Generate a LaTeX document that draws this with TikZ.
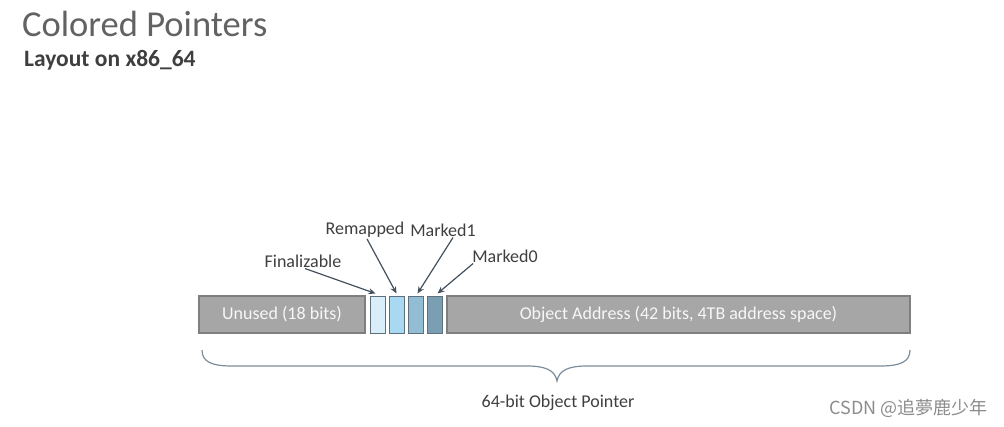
\documentclass[tikz,border=0pt]{standalone}
\usepackage{fontspec}
\setmainfont{Carlito}
\newfontfamily\cjkfont{Noto Sans CJK SC}
\usetikzlibrary{arrows.meta,calc}
\definecolor{titlegray}{HTML}{626262}
\definecolor{subgray}{HTML}{3F3F3F}
\definecolor{boxfill}{HTML}{A6A6A6}
\definecolor{boxdraw}{HTML}{7F7F7F}
\definecolor{bitdraw}{HTML}{5E707C}
\definecolor{bitA}{HTML}{DAEEF9}
\definecolor{bitB}{HTML}{A9D8F2}
\definecolor{bitC}{HTML}{93BDD5}
\definecolor{bitD}{HTML}{7B9FB2}
\definecolor{arrowcol}{HTML}{44505C}
\definecolor{bracecol}{HTML}{7D8C99}
\definecolor{wmgray}{HTML}{8C8C8C}
\tikzset{
  field/.style={draw=boxdraw, fill=boxfill, line width=1.3pt, minimum height=37pt, inner sep=0pt,
    text=white!94!gray, font=\fontsize{18}{20}\selectfont},
  bitbox/.style={draw=bitdraw, line width=1pt, minimum width=15pt, minimum height=37pt, inner sep=0pt},
  lbl/.style={text=subgray, font=\fontsize{18}{20}\selectfont, inner sep=1pt},
  ptr/.style={draw=arrowcol, line width=1.2pt, -{Stealth[length=7pt,width=6pt]}},
}
\begin{document}
\begin{tikzpicture}[x=1pt,y=-1pt]
\useasboundingbox (0,0) rectangle (1004,426);
\node[anchor=base west, text=titlegray, font=\fontsize{36.5}{40}\selectfont, inner sep=0pt] (title) at (22,36) {Colored Pointers};
\node[anchor=base west, text=subgray, font=\bfseries\fontsize{23.5}{26}\selectfont, inner sep=0pt] (sub) at (24,66) {Layout on x86\_64};

\node[field, minimum width=166pt] (unused) at (282,314.5) {Unused (18 bits)};
\node[bitbox, fill=bitA] (b1) at (377.5,314.5) {};
\node[bitbox, fill=bitB] (b2) at (396.5,314.5) {};
\node[bitbox, fill=bitC] (b3) at (415.5,314.5) {};
\node[bitbox, fill=bitD] (b4) at (434.5,314.5) {};
\node[field, minimum width=463pt] (obj) at (678.5,314.5) {Object Address (42 bits, 4TB address space)};

\node[lbl] (fin) at (303,261) {Finalizable};
\node[lbl] (rem) at (365,230) {Remapped};
\node[lbl] (m1) at (443,230) {Marked1};
\node[lbl] (m0) at (505,256) {Marked0};

\draw[ptr] ($(fin.south)+(2,0)$) -- ($(b1.north)+(-2,-2)$);
\draw[ptr] ($(rem.south)+(2,0)$) -- ($(b2.north)+(0,-2)$);
\draw[ptr] ($(m1.south)+(10,0)$) -- ($(b3.north)+(2,-2)$);
\draw[ptr] ($(m0.south west)+(2,0)$) -- ($(b4.north)+(3,-2)$);

\draw[bracecol, line width=1.2pt]
  (202,350) .. controls (202,362) and (212,366) .. (232,366)
  -- (527,366) .. controls (545,366) and (555,370) .. (557,381)
  .. controls (559,370) and (569,366) .. (587,366)
  -- (880,366) .. controls (900,366) and (910,362) .. (910,350);
\node[lbl] (ptrlbl) at (558,403) {64-bit Object Pointer};

\node[anchor=east, text=wmgray, font=\cjkfont\fontsize{18}{20}\selectfont, inner sep=0pt] (wm) at (988,408) {CSDN @追夢鹿少年};
\end{tikzpicture}
\end{document}
